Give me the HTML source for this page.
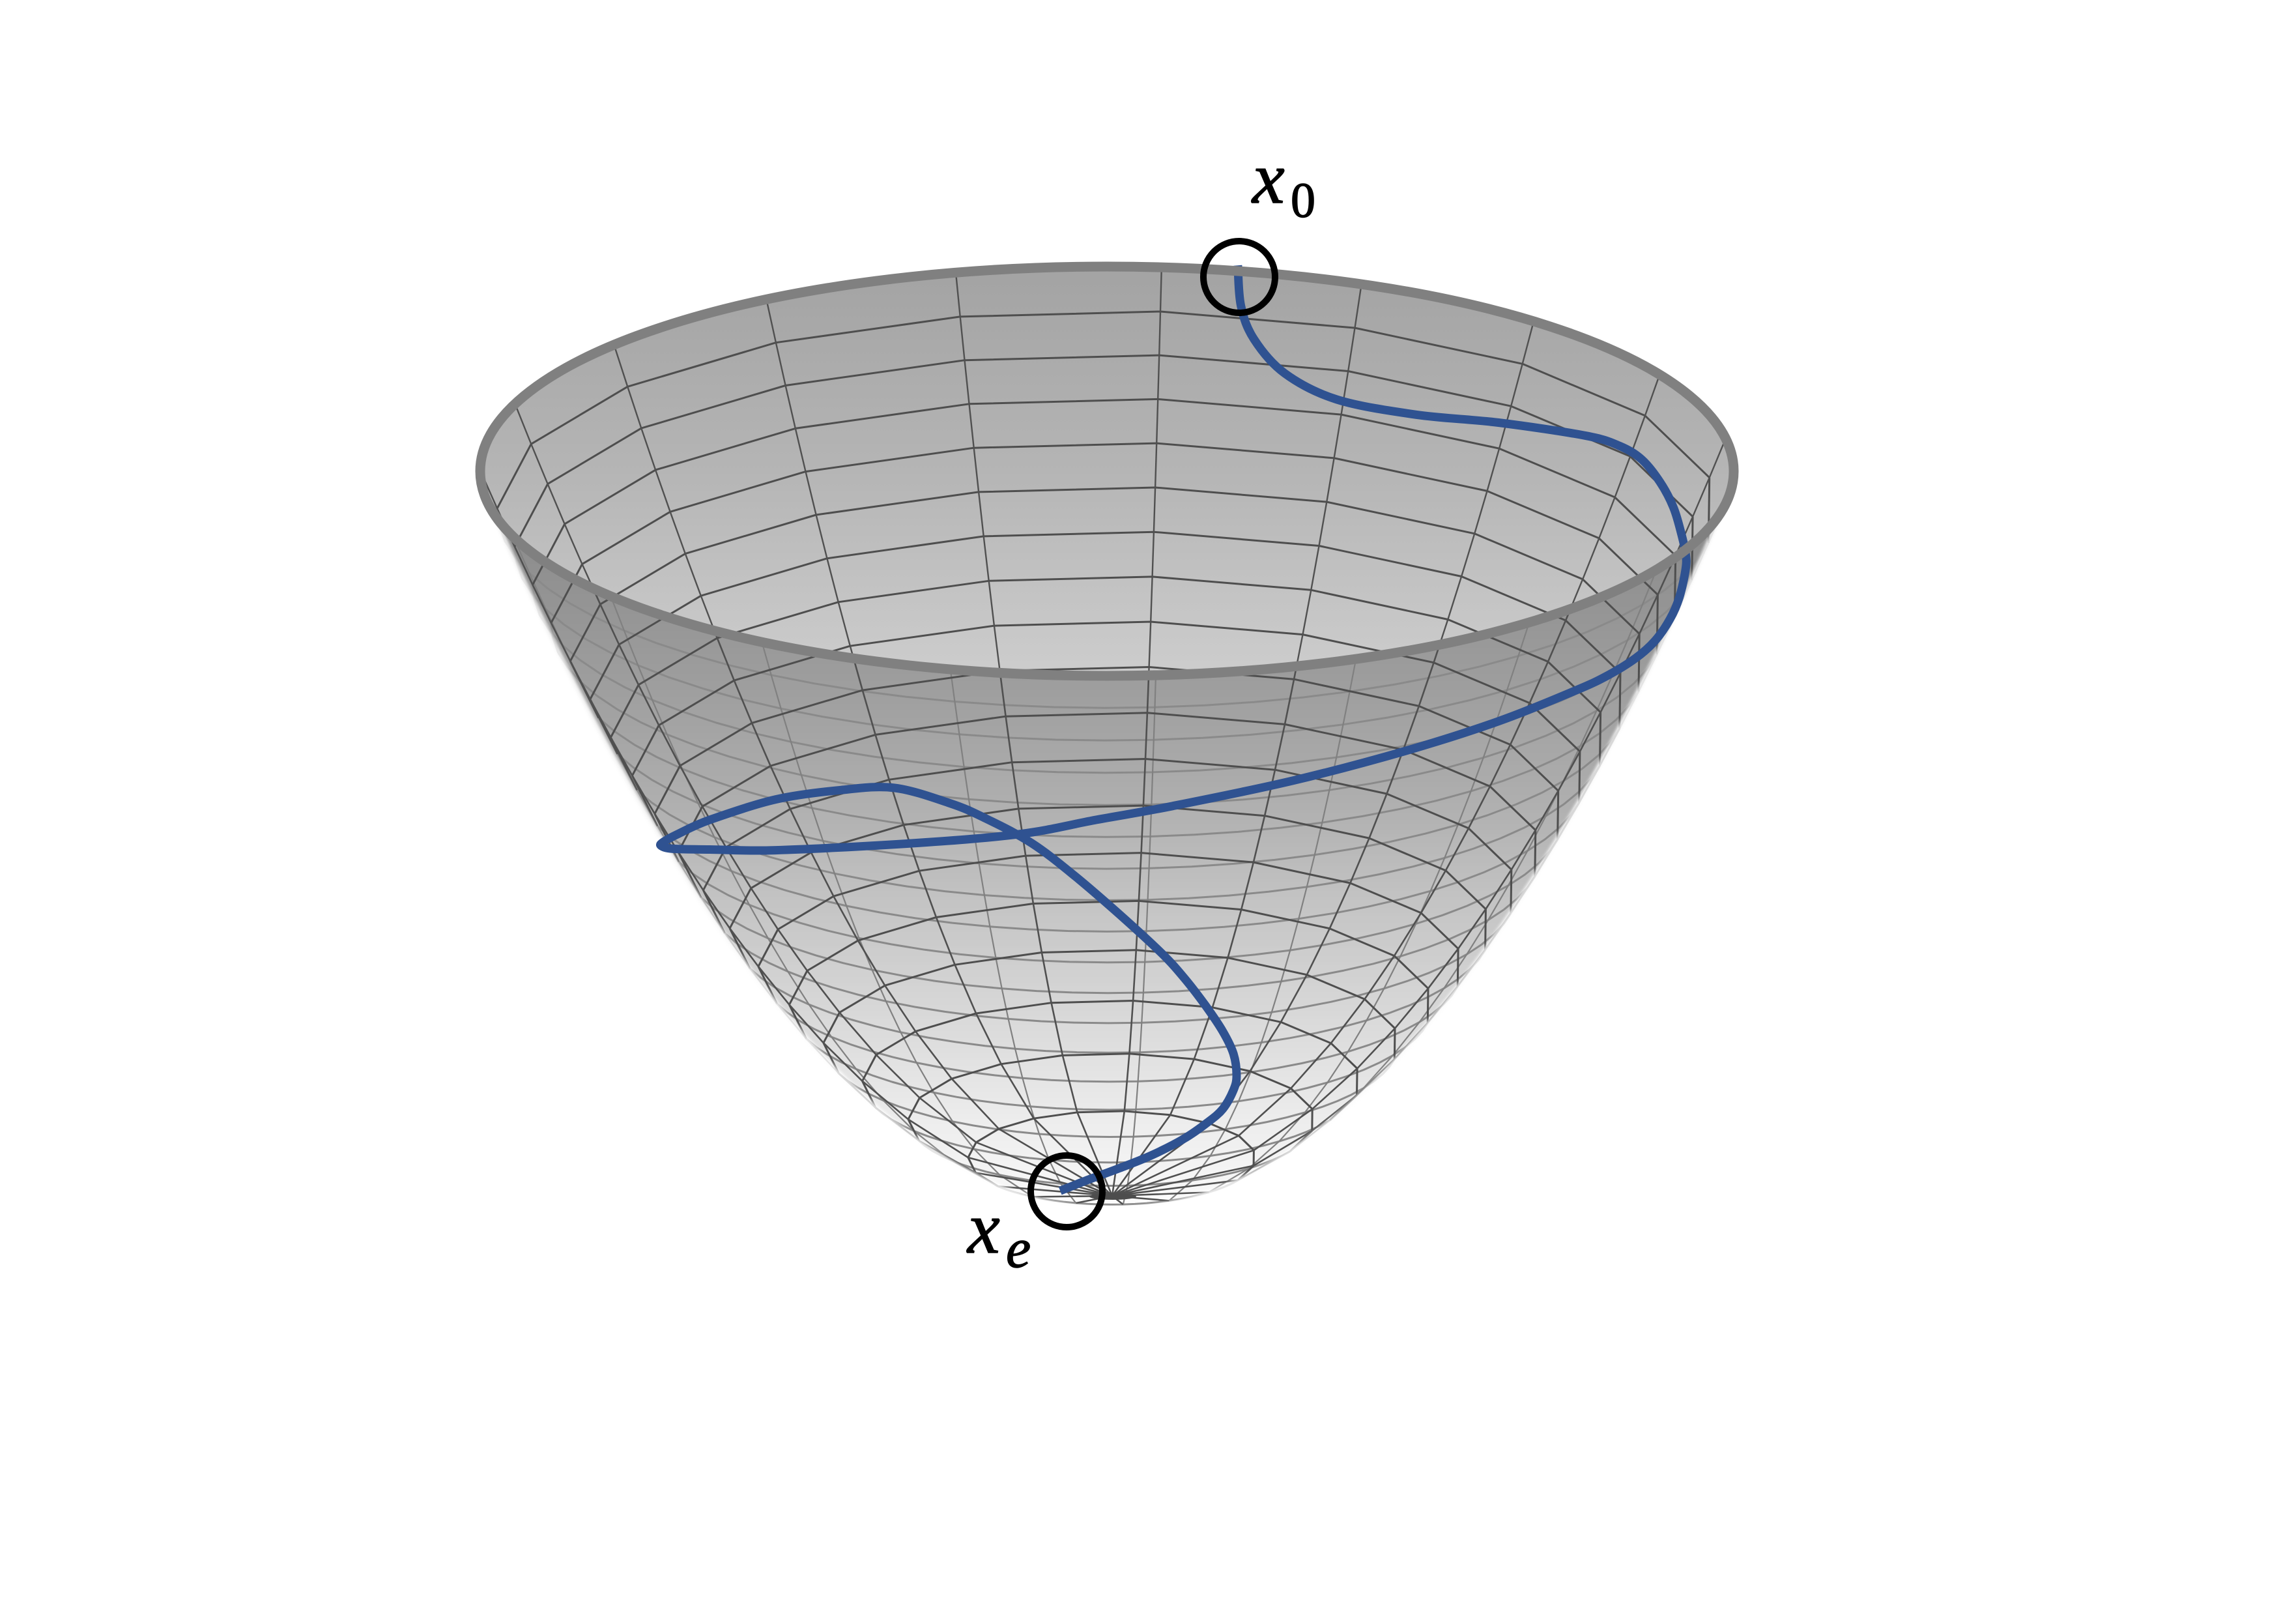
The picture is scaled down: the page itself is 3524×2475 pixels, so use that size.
<!DOCTYPE html>
<html lang="en">
<head>
<meta charset="utf-8">
<title>Trajectory on a convex bowl</title>
<style>
  html, body { margin: 0; padding: 0; background: #ffffff; }
  svg { display: block; }
  .label { font-family: "Liberation Serif", serif; fill: #000000; stroke: #000000; stroke-width: 1.4; }
  .italic { font-style: italic; }
</style>
</head>
<body>
<svg id="chart" xmlns="http://www.w3.org/2000/svg" width="3524" height="2475" viewBox="0 0 3524 2475">
  <defs>
    <linearGradient id="bodyFill" gradientUnits="userSpaceOnUse" x1="0" y1="767" x2="0" y2="1860">
      <stop offset="0" stop-color="#888888"/>
      <stop offset="0.259" stop-color="#9e9e9e"/>
      <stop offset="0.41" stop-color="#adadad"/>
      <stop offset="0.567" stop-color="#c4c4c4"/>
      <stop offset="0.726" stop-color="#d9d9d9"/>
      <stop offset="0.882" stop-color="#eeeeee"/>
      <stop offset="0.96" stop-color="#f6f6f6"/>
      <stop offset="1" stop-color="#ffffff"/>
    </linearGradient>
    <linearGradient id="innerFill" gradientUnits="userSpaceOnUse" x1="0" y1="410" x2="0" y2="1036">
      <stop offset="0" stop-color="#a3a3a3"/>
      <stop offset="0.5" stop-color="#b5b5b5"/>
      <stop offset="1" stop-color="#cdcdcd"/>
    </linearGradient>
    <clipPath id="rimClip">
      <ellipse cx="1699" cy="723" rx="962" ry="313"/>
    </clipPath>
    <filter id="soften" x="-5%" y="-5%" width="110%" height="110%">
      <feGaussianBlur stdDeviation="2"/>
    </filter>
    <filter id="edgeFade" filterUnits="userSpaceOnUse" x="600" y="600" width="2300" height="1400">
      <feGaussianBlur stdDeviation="2.5"/>
    </filter>
  </defs>

  <rect x="0" y="0" width="3524" height="2475" fill="#ffffff"/>
  <path id="bowlBody" fill="url(#bodyFill)" filter="url(#soften)"/>
  <g id="outerMesh" fill="none" stroke-linejoin="round"></g>
  <ellipse cx="1708" cy="1836" rx="36" ry="5" fill="#4d4d4d"/>
  <path id="edgeOverlay" fill="none" stroke="#ffffff" stroke-width="8" stroke-opacity="0.85" filter="url(#edgeFade)"/>
  <ellipse cx="1699" cy="723" rx="962" ry="313" fill="url(#innerFill)"/>
  <g id="innerMesh" fill="none" clip-path="url(#rimClip)"></g>
  <path id="trajectory" fill="none" stroke="#2f5291" stroke-width="13" stroke-linejoin="round"/>
  <ellipse cx="1699" cy="723" rx="962" ry="314" fill="none" stroke="#808080" stroke-width="15"/>

  <circle cx="1902" cy="425" r="55" fill="none" stroke="#000000" stroke-width="10"/>
  <circle cx="1637" cy="1828" r="55" fill="none" stroke="#000000" stroke-width="10"/>

  <text class="label italic" x="1922" y="311" font-size="112">x</text>
  <text class="label" x="1981" y="333" font-size="76">0</text>
  <text class="label italic" x="1485" y="1922" font-size="112">x</text>
  <text class="label italic" x="1544" y="1944" font-size="86">e</text>
</svg>

<script>
// Trajectory values (horizontal state, height on the bowl)
const trajectoryState = [20.3, 20.8, 22.9, 27.8, 36.1, 48.8, 62.0, 75.9, 81.3, 84.9, 87.8, 89.9, 91.1, 91.9, 91.9, 90.9, 89.4, 87.0, 83.9, 79.4, 74.2, 62.0, 47.1, 29.1, 9.9, -2.3, -14.8, -32.8, -53.6, -64.1, -70.0, -71.9, -71.6, -69.3, -64.1, -53.6, -43.2, -34.6, -25.8, -20.3, -12.7, -5.7, 1.3, 8.1, 11.7, 15.1, 17.9, 19.6, 20.1, 19.6, 17.9, 15.4, 11.7, 6.5, 1.3, -4.0, -8.1];
const trajectoryHeight = [128.4, 122.8, 118.2, 113.5, 109.9, 107.8, 106.7, 104.9, 103.5, 101.6, 98.5, 95.1, 91.7, 88.6, 86.5, 82.6, 79.6, 76.6, 74.2, 71.8, 69.7, 65.5, 61.4, 57.3, 53.8, 51.9, 49.9, 48.6, 47.7, 47.8, 47.9, 48.3, 48.8, 49.9, 51.9, 54.7, 56.0, 56.3, 54.2, 52.2, 48.7, 44.1, 38.9, 33.5, 30.1, 26.3, 22.7, 19.6, 16.6, 14.6, 12.0, 10.1, 7.9, 5.6, 3.8, 2.1, 0.7];
const ringCount = 19;
const meridianCount = 19;
const meridianStartDeg = -85;

// Axis functions
function xAxis(v) { return 1705 + v * 9.6; }
function yAxis(v) { return 1835 - v * 11.12; }

// Bowl projection
const R = 962, H = 1112, K = 313;
function project(r, t) {
  return [1707 - 8 * r * r + R * r * Math.cos(t), 1835 - H * r * r + K * r * Math.sin(t)];
}
function isFront(r, t) { return Math.sin(t) > K / (2 * H * Math.max(r, 0.0001)); }
function f(p) { return p[0].toFixed(1) + ' ' + p[1].toFixed(1); }

// Silhouette
(function () {
  const left = [], right = [];
  const r0 = K / (2 * H);
  for (let i = 0; i <= 120; i++) {
    const r = r0 + (1 - r0) * i / 120;
    const s = Math.min(1, K / (2 * H * r));
    const a = Math.asin(s);
    right.push(project(r, a));
    left.push(project(r, Math.PI - a));
  }
  const pts = left.slice().reverse().concat(right);
  const outline = 'M' + pts.map(f).join('L');
  document.getElementById('bowlBody').setAttribute('d', outline + 'Z');
  document.getElementById('edgeOverlay').setAttribute('d', outline);
})();

// Mesh
const outer = document.getElementById('outerMesh');
const inner = document.getElementById('innerMesh');
const ringRadius = [0];
for (let i = 1; i <= ringCount; i++) ringRadius.push(Math.sqrt(i / ringCount));
const step = 2 * Math.PI / meridianCount;
const start = meridianStartDeg * Math.PI / 180;

function addLine(parent, d, stroke, width, name) {
  if (!d) return;
  const el = document.createElementNS('http://www.w3.org/2000/svg', 'path');
  el.setAttribute('d', d);
  el.setAttribute('stroke', stroke);
  el.setAttribute('stroke-width', width);
  
  
  parent.appendChild(el);
}

let frontRingPaths = '', backRingPaths = '', frontMerPaths = '', backMerPaths = '';
const frontSub = 4;
for (let i = 1; i < ringCount; i++) {
  const r = ringRadius[i];
  for (let j = 0; j < meridianCount; j++) {
    const a = start + j * step, b = a + step;
    if (isFront(r, a + step / 2)) {
      for (let s = 0; s < frontSub; s++) {
        frontRingPaths += 'M' + f(project(r, a + s * step / frontSub)) + 'L' + f(project(r, a + (s + 1) * step / frontSub));
      }
    } else {
      backRingPaths += 'M' + f(project(r, a)) + 'L' + f(project(r, b));
    }
  }
}
for (let j = 0; j < meridianCount; j++) {
  const t = start + j * step;
  for (let i = 0; i < ringCount; i++) {
    const r1 = ringRadius[i], r2 = ringRadius[i + 1];
    const seg = 'M' + f(project(r1, t)) + 'L' + f(project(r2, t));
    if (isFront((r1 + r2) / 2, t)) frontMerPaths += seg; else backMerPaths += seg;
  }
}
addLine(outer, frontRingPaths, '#8a8a8a', 3, 'front-ring-lines');
addLine(outer, frontMerPaths, '#808080', 2.2, 'front-meridian-lines');
addLine(outer, backRingPaths, '#4e4e4e', 3, 'back-ring-lines');
addLine(outer, backMerPaths, '#505050', 2.6, 'back-meridian-lines');
addLine(inner, backRingPaths, '#4e4e4e', 3, 'inner-ring-lines');
addLine(inner, backMerPaths, '#505050', 2.4, 'inner-meridian-lines');

// Trajectory via Catmull-Rom smoothing
(function () {
  const p = trajectoryState.map(function (v, i) { return [xAxis(v), yAxis(trajectoryHeight[i])]; });
  let d = 'M' + f(p[0]);
  for (let i = 0; i < p.length - 1; i++) {
    const p0 = p[Math.max(i - 1, 0)], p1 = p[i], p2 = p[i + 1], p3 = p[Math.min(i + 2, p.length - 1)];
    const c1 = [p1[0] + (p2[0] - p0[0]) / 6, p1[1] + (p2[1] - p0[1]) / 6];
    const c2 = [p2[0] - (p3[0] - p1[0]) / 6, p2[1] - (p3[1] - p1[1]) / 6];
    d += 'C' + f(c1) + ' ' + f(c2) + ' ' + f(p2);
  }
  document.getElementById('trajectory').setAttribute('d', d);
})();
</script>
</body>
</html>
